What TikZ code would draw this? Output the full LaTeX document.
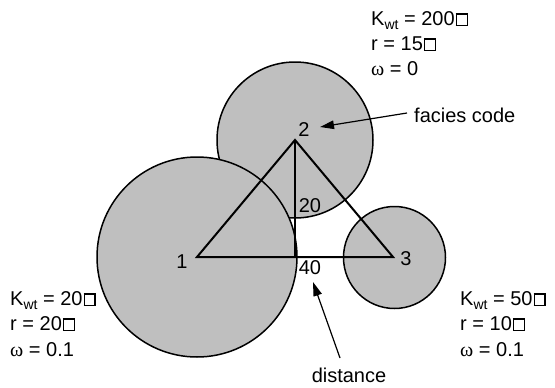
\documentclass[tikz,border=0pt]{standalone}
\usepackage{fontspec}
\setmainfont{Liberation Sans}
\newfontfamily\grkfont{Liberation Serif}
\usetikzlibrary{arrows.meta}
\newcommand{\ubox}{{\kern1pt\fboxsep0pt\fboxrule1.4pt\fbox{\rule{0pt}{10.5pt}\rule{9.5pt}{0pt}}}}
\newcommand{\lowsub}[1]{\raisebox{-4pt}{\fontsize{14}{14}\selectfont #1}}
\newcommand{\om}{{\grkfont ω}}
\begin{document}
\begin{tikzpicture}[x=1pt,y=-1pt,
  disc/.style={fill=black!25,draw=black,line width=1.5pt},
  tri/.style={draw=black,line width=2pt,line join=miter},
  txt/.style={inner sep=0pt,font=\fontsize{20}{24}\selectfont},
  arr/.style={draw=black,line width=1.2pt,-{Triangle[length=14pt,width=8.5pt]}}]
\useasboundingbox (0,0) rectangle (555,388);
% circles
\fill[disc] (295,140) circle (78);
\fill[disc] (197,257) circle (100);
\fill[disc] (394.5,257.5) circle (51);
% triangle
\coordinate (v1) at (197,257);
\coordinate (v2) at (295,140);
\coordinate (v3) at (393,257);
\coordinate (vb) at (295,257);
\draw[tri] (v1) -- (v2) -- (v3) -- cycle;
\draw[tri] (v2) -- (vb);
% vertex labels
\node[txt] (l1) at (182,262) {1};
\node[txt] (l2) at (304,130) {2};
\node[txt] (l3) at (406,259) {3};
\node[txt] (l20) at (310,206) {20};
\node[txt] (l40) at (310,268) {40};
% parameter blocks
\node[txt,anchor=base west] (t1) at (371,25) {K\lowsub{wt} = 200\ubox};
\node[txt,anchor=base west] (t2) at (371,50) {r = 15\ubox};
\node[txt,anchor=base west] (t3) at (371,75) {\om{} = 0};
\node[txt,anchor=base west] (a1) at (10,305) {K\lowsub{wt} = 20\ubox};
\node[txt,anchor=base west] (a2) at (10,330) {r = 20\ubox};
\node[txt,anchor=base west] (a3) at (10,356) {\om{} = 0.1};
\node[txt,anchor=base west] (b1) at (460,305) {K\lowsub{wt} = 50\ubox};
\node[txt,anchor=base west] (b2) at (460,330) {r = 10\ubox};
\node[txt,anchor=base west] (b3) at (460,356) {\om{} = 0.1};
% annotations
\node[txt,anchor=base west] (facies) at (414,122) {facies code};
\node[txt,anchor=base] (dist) at (349,382) {distance};
\coordinate (ftail) at (407,113);
\coordinate (ftip) at (320,127);
\coordinate (dtail) at (340,358);
\coordinate (dtip) at (313,282);
\draw[arr] (ftail) -- (ftip);
\draw[arr] (dtail) -- (dtip);
\end{tikzpicture}
\end{document}
